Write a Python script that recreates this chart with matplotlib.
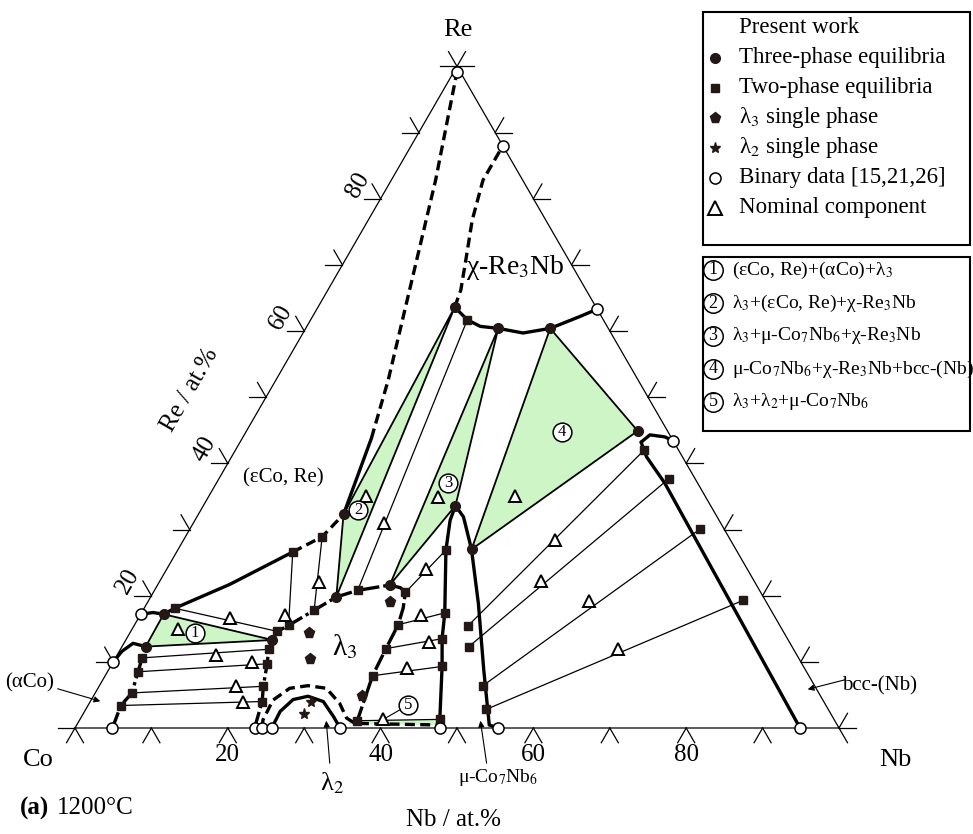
#!/usr/bin/env python3
import numpy as np
import matplotlib
matplotlib.use('Agg')
import matplotlib.pyplot as plt
from matplotlib.patches import Polygon, Rectangle

plt.rcParams['font.family'] = ['Liberation Serif', 'DejaVu Serif']
plt.rcParams['mathtext.fontset'] = 'stix'

# ---- data: compositions as (Nb at.%, Re at.%) ----
tri1 = [(3.0, 17.2), (3.1, 12.3), (19.2, 13.3)]
tri2 = [(19.0, 32.3), (24.3, 19.8), (17.9, 63.6)]
tri3 = [(30.4, 21.6), (33.0, 33.6), (25.2, 60.4)]
tri4 = [(32.0, 60.4), (51.2, 44.9), (38.4, 27.0)]
tri5 = [(35.5, 1.1), (47.1, 1.3), (47.5, 0.45), (35.5, 0.6)]

tie_from = [(4.0, 18.1), (3.5, 10.6), (4.0, 8.5), (4.8, 5.3), (4.3, 3.4),
            (15.2, 26.6), (17.9, 28.9), (20.5, 61.7), (33.0, 20.5), (34.5, 15.6),
            (34.7, 12.0), (35.0, 7.9), (36.4, 1.1), (43.7, 15.4), (45.4, 12.3),
            (50.2, 6.4), (52.4, 2.8)]
tie_to = [(19.2, 14.6), (19.4, 11.9), (20.3, 9.7), (21.5, 6.3), (22.5, 4.0),
          (20.2, 15.5), (22.4, 17.8), (26.6, 20.8), (35.1, 26.9), (39.7, 17.4),
          (41.3, 13.5), (43.4, 9.3), (47.1, 1.3), (53.5, 42.0), (58.9, 37.7),
          (66.8, 30.1), (77.8, 19.3)]

nominal = [(6.0, 15.0), (11.9, 16.7), (18.9, 17.1), (12.9, 11.1), (18.2, 9.9),
           (17.9, 6.3), (20.0, 4.0), (20.9, 22.1), (20.6, 35.1), (24.9, 31.0),
           (30.1, 34.9), (40.1, 35.1), (36.8, 17.1), (39.9, 13.0), (38.9, 9.1),
           (34.0, 24.0), (39.7, 1.3), (48.6, 28.4), (49.9, 22.2), (57.7, 19.2),
           (65.1, 12.0)]
lam3_single = [(23.5, 14.3), (25.5, 10.4), (31.7, 19.0), (35.1, 4.8)]
lam2_single = [(28.9, 3.9), (28.9, 2.1)]
binary = [(4.9, 0), (23.5, 0), (24.5, 0), (25.75, 0), (34.7, 0), (47.8, 0),
          (55.4, 0), (94.9, 0), (0, 9.9), (0, 17.2), (0.4, 99.2), (12.0, 88.0),
          (36.7, 63.3), (56.6, 43.4)]

# phase boundaries
aco_top = [(0, 9.9), (0.35, 11.6), (1.2, 12.8), (3.1, 12.3)]
eps_low = [(0, 17.2), (1.5, 17.45), (3.0, 17.2)]
eps_lam = [(3.0, 17.2), (4.0, 18.1), (9.4, 21.7), (15.2, 26.6)]
eps_lam_d = [(15.2, 26.6), (17.9, 28.9), (19.0, 32.3)]
eps_chi = [(19.0, 32.3), (16.9, 43.8)]
eps_chi_d = [(16.9, 43.8), (14.7, 52.6), (5.8, 82.8), (0.4, 99.2)]
chi_top_d = [(17.9, 63.6), (17.4, 66.2), (15.8, 70.7), (13.6, 76.8), (12.0, 82.8), (12.0, 88.0)]
chi_low = [(17.9, 63.6), (20.5, 61.7), (22.7, 60.7), (25.2, 60.4), (28.8, 59.7),
           (32.0, 60.4), (35.0, 62.2), (36.7, 63.3)]
bcc_chi = [(56.6, 43.4), (55.2, 44.0), (53.1, 44.3), (52.5, 43.2)]
bcc_line = [(52.5, 43.2), (54.3, 41.0), (58.7, 37.0), (94.9, 0)]
mu_left = [(33.0, 33.6), (33.4, 31.4), (35.1, 26.9), (39.7, 17.4), (41.3, 13.5),
           (43.4, 9.3), (47.1, 1.3), (47.8, 0)]
mu_right = [(33.0, 33.6), (34.9, 31.9), (38.4, 27.0), (43.4, 18.8), (49.1, 8.8),
            (54.0, 0.45), (55.4, 0)]
lam3_line = [(23.5, 0), (22.5, 4.0), (21.5, 6.3), (20.3, 9.7), (19.4, 11.9), (19.2, 13.3),
             (19.2, 14.6), (20.2, 15.5), (22.4, 17.8), (24.3, 19.8), (26.6, 20.8),
             (30.4, 21.6), (32.0, 21.2), (33.0, 20.5), (33.9, 18.1), (34.5, 15.6),
             (34.7, 12.0), (35.0, 7.9), (36.4, 1.1)]
aco_line = [(4.9, 0), (4.3, 3.4), (4.8, 5.3), (4.0, 8.5), (3.5, 10.6), (3.1, 12.3)]
lam2_solid = [(25.75, 0), (25.6, 2.5), (26.4, 4.3), (28.1, 4.8), (30.5, 4.0),
              (33.0, 1.7), (34.7, 0)]
lam2_dash = [(24.5, 0), (24.0, 1.2), (23.8, 4.2), (25.1, 6.0), (27.3, 6.4), (29.9, 6.0),
             (32.8, 3.7), (34.8, 1.5), (36.3, 0.7), (47.5, 0.45)]

tri_labels = [(8.5, 14.3), (20.6, 33.0), (30.3, 37.0), (41.3, 44.8), (41.9, 3.5)]

# ---- helpers ----
K = 7.64  # pixels per at.%


def tern(nb, re):
    nb = np.asarray(nb, float)
    re = np.asarray(re, float)
    return nb + 0.5 * re, re * np.sqrt(3) / 2


def px(x, y):
    return (x - 75) / K, (728 - y) / K


def xy(pts):
    nb, re = zip(*pts)
    return tern(nb, re)


fig = plt.figure(figsize=(9.73, 8.34), dpi=100)
ax = fig.add_axes([0, 0, 1, 1])
ax.set_xlim(px(0, 0)[0], px(973, 0)[0])
ax.set_ylim(px(0, 834)[1], px(0, 0)[1])
ax.axis('off')

DARK = '#231815'
GREEN = '#cdf5c6'

# frame and ticks
ax.plot(*xy([(0, 0), (100, 0), (0, 100), (0, 0)]), color='k', lw=0.9)
L = 17 / K


def tick(pt, angles):
    x0, y0 = tern(*pt)
    for a in angles:
        r = np.radians(a)
        ax.plot([x0, x0 + L * np.cos(r)], [y0, y0 + L * np.sin(r)], color='k', lw=0.9)


for i in range(10):
    tick((10 * i, 0), (240, 300))
for i in range(1, 11):
    tick((0, 10 * i), (180, 120))
tick((0, 0), (180,))
for i in range(11):
    tick((100 - 10 * i, 10 * i), (0, 60))
tick((100, 0), (300,))

# three-phase triangles
for t in (tri1, tri2, tri3, tri4):
    ax.add_patch(Polygon(np.column_stack(xy(t)), closed=True, fc=GREEN, ec='k', lw=1.3, zorder=2))
ax.add_patch(Polygon(np.column_stack(xy(tri5)), closed=True, fc=GREEN, ec='none', zorder=2))

# tie lines
for a, b in zip(tie_from, tie_to):
    ax.plot(*xy([a, b]), color='k', lw=0.9, zorder=3)

# boundaries
thick = dict(color='k', lw=2.4, zorder=4, solid_capstyle='round')
for seg in (aco_top, eps_low, eps_lam, eps_chi, chi_low, bcc_chi, bcc_line, mu_left, mu_right,
            lam2_solid):
    ax.plot(*xy(seg), **thick)
for seg in (eps_lam_d, eps_chi_d, chi_top_d, lam2_dash):
    ax.plot(*xy(seg), color='k', lw=2.4, zorder=4, dashes=(3, 1.6))
ax.plot(*xy(lam3_line), color='k', lw=2.4, zorder=4, dashes=(5, 1.2, 1, 1.2))
ax.plot(*xy(aco_line), color='k', lw=2.4, zorder=4, dashes=(5, 1.2, 1, 1.2))

# markers
pts = tie_from + tie_to
ax.plot(*xy(pts), 's', ms=5.5, color=DARK, ls='none', zorder=6)
for t in (tri1, tri2, tri3, tri4):
    ax.plot(*xy(t), 'o', ms=7, color=DARK, ls='none', zorder=6)
ax.plot(*xy(nominal), '^', ms=8.5, mfc='white', mec='k', mew=1.4, ls='none', zorder=6)
ax.plot(*xy(lam3_single), 'p', ms=8, color=DARK, ls='none', zorder=6)
ax.plot(*xy(lam2_single), '*', ms=8, color=DARK, ls='none', zorder=6)
ax.plot(*xy(binary), 'o', ms=8, mfc='white', mec='k', mew=1.1, ls='none', zorder=7)

# circled triangle labels
lx, ly = tern(*tri_labels[4])
ax.plot([lx, tern(39.7, 1.3)[0]], [ly, tern(39.7, 1.3)[1]], color='k', lw=0.8, zorder=5)
for i, p in enumerate(tri_labels):
    x, y = tern(*p)
    ax.plot(x, y, 'o', ms=13.5, mfc='white', mec='k', mew=1.1, zorder=8)
    ax.text(x, y, str(i + 1), ha='center', va='center', fontsize=12, zorder=9)

# axis labels
for v in (20, 40, 60, 80):
    x, y = tern(v, 0)
    ax.text(x, y - 27 / K, str(v), ha='center', va='center', fontsize=18)
    x, y = tern(0, v)
    ax.text(x - 23 / K, y + 14 / K, str(v), ha='center', va='center', fontsize=18, rotation=60)
ax.text(*px(190, 390), 'Re / at.%', ha='center', va='center', fontsize=18, rotation=60)
ax.text(*px(458, 30), 'Re', ha='center', va='center', fontsize=19)
ax.text(*px(38, 760), 'Co', ha='center', va='center', fontsize=19)
ax.text(*px(895, 760), 'Nb', ha='center', va='center', fontsize=19)
ax.text(*px(453, 820), 'Nb / at.%', ha='center', va='center', fontsize=18)
ax.text(*px(20, 808), '(a)', ha='left', va='center', fontsize=18, fontweight='bold')
ax.text(*px(57, 808), '1200°C', ha='left', va='center', fontsize=18)

# phase labels
ax.text(*px(515, 268), 'χ-Re$_3$Nb', ha='center', va='center', fontsize=20)
ax.text(*px(345, 647), 'λ$_3$', ha='center', va='center', fontsize=21)
ax.text(*px(283, 478), '(εCo, Re)', ha='center', va='center', fontsize=15)
ax.text(*px(30, 683), '(αCo)', ha='center', va='center', fontsize=15)
ax.text(*px(880, 686), 'bcc-(Nb)', ha='center', va='center', fontsize=15)
ax.text(*px(332, 783), 'λ$_2$', ha='center', va='center', fontsize=19)
ax.text(*px(498, 778), 'μ-Co$_7$Nb$_6$', ha='center', va='center', fontsize=14)

arr = dict(arrowstyle='-|>', color='k', lw=0.8, mutation_scale=9)
ax.annotate('', xy=px(103, 702), xytext=px(55, 688), arrowprops=arr)
ax.annotate('', xy=px(805, 690), xytext=px(848, 679), arrowprops=arr)
ax.annotate('', xy=px(326, 718), xytext=px(330, 766), arrowprops=arr)
ax.annotate('', xy=px(480, 718), xytext=px(487, 766), arrowprops=arr)

# legend 1
x0, y0 = px(703, 245)
x1, y1 = px(970, 12)
ax.add_patch(Rectangle((x0, y0), x1 - x0, y1 - y0, fc='white', ec='k', lw=1.5, zorder=10))
rows = [28, 58, 88, 118, 148, 178, 208]
names = ['Present work', 'Three-phase equilibria', 'Two-phase equilibria', 'λ$_3$ single phase',
         'λ$_2$ single phase', 'Binary data [15,21,26]', 'Nominal component']
styles = [None,
          dict(marker='o', ms=7, color=DARK),
          dict(marker='s', ms=5.5, color=DARK),
          dict(marker='p', ms=8, color=DARK),
          dict(marker='*', ms=8, color=DARK),
          dict(marker='o', ms=8, mfc='white', mec='k', mew=1.1),
          dict(marker='^', ms=10, mfc='white', mec='k', mew=1.4)]
for r, n, s in zip(rows, names, styles):
    if s:
        ax.plot(*px(715, r), ls='none', zorder=11, **s)
    ax.text(*px(739, r), n, ha='left', va='center', fontsize=16.5, zorder=11)

# legend 2
x0, y0 = px(703, 431)
x1, y1 = px(970, 257)
ax.add_patch(Rectangle((x0, y0), x1 - x0, y1 - y0, fc='white', ec='k', lw=1.5, zorder=10))
rows2 = [270, 303, 336, 369, 402]
names2 = ['(εCo, Re)+(αCo)+λ$_3$', 'λ$_3$+(εCo, Re)+χ-Re$_3$Nb', 'λ$_3$+μ-Co$_7$Nb$_6$+χ-Re$_3$Nb',
          'μ-Co$_7$Nb$_6$+χ-Re$_3$Nb+bcc-(Nb)', 'λ$_3$+λ$_2$+μ-Co$_7$Nb$_6$']
for i, (r, n) in enumerate(zip(rows2, names2)):
    ax.plot(*px(713, r), 'o', ms=14, mfc='white', mec='k', mew=1.1, zorder=11)
    ax.text(*px(713, r), str(i + 1), ha='center', va='center', fontsize=13, zorder=12)
    ax.text(*px(732, r), n, ha='left', va='center', fontsize=14, zorder=11)

fig.savefig('out.png', dpi=100)
